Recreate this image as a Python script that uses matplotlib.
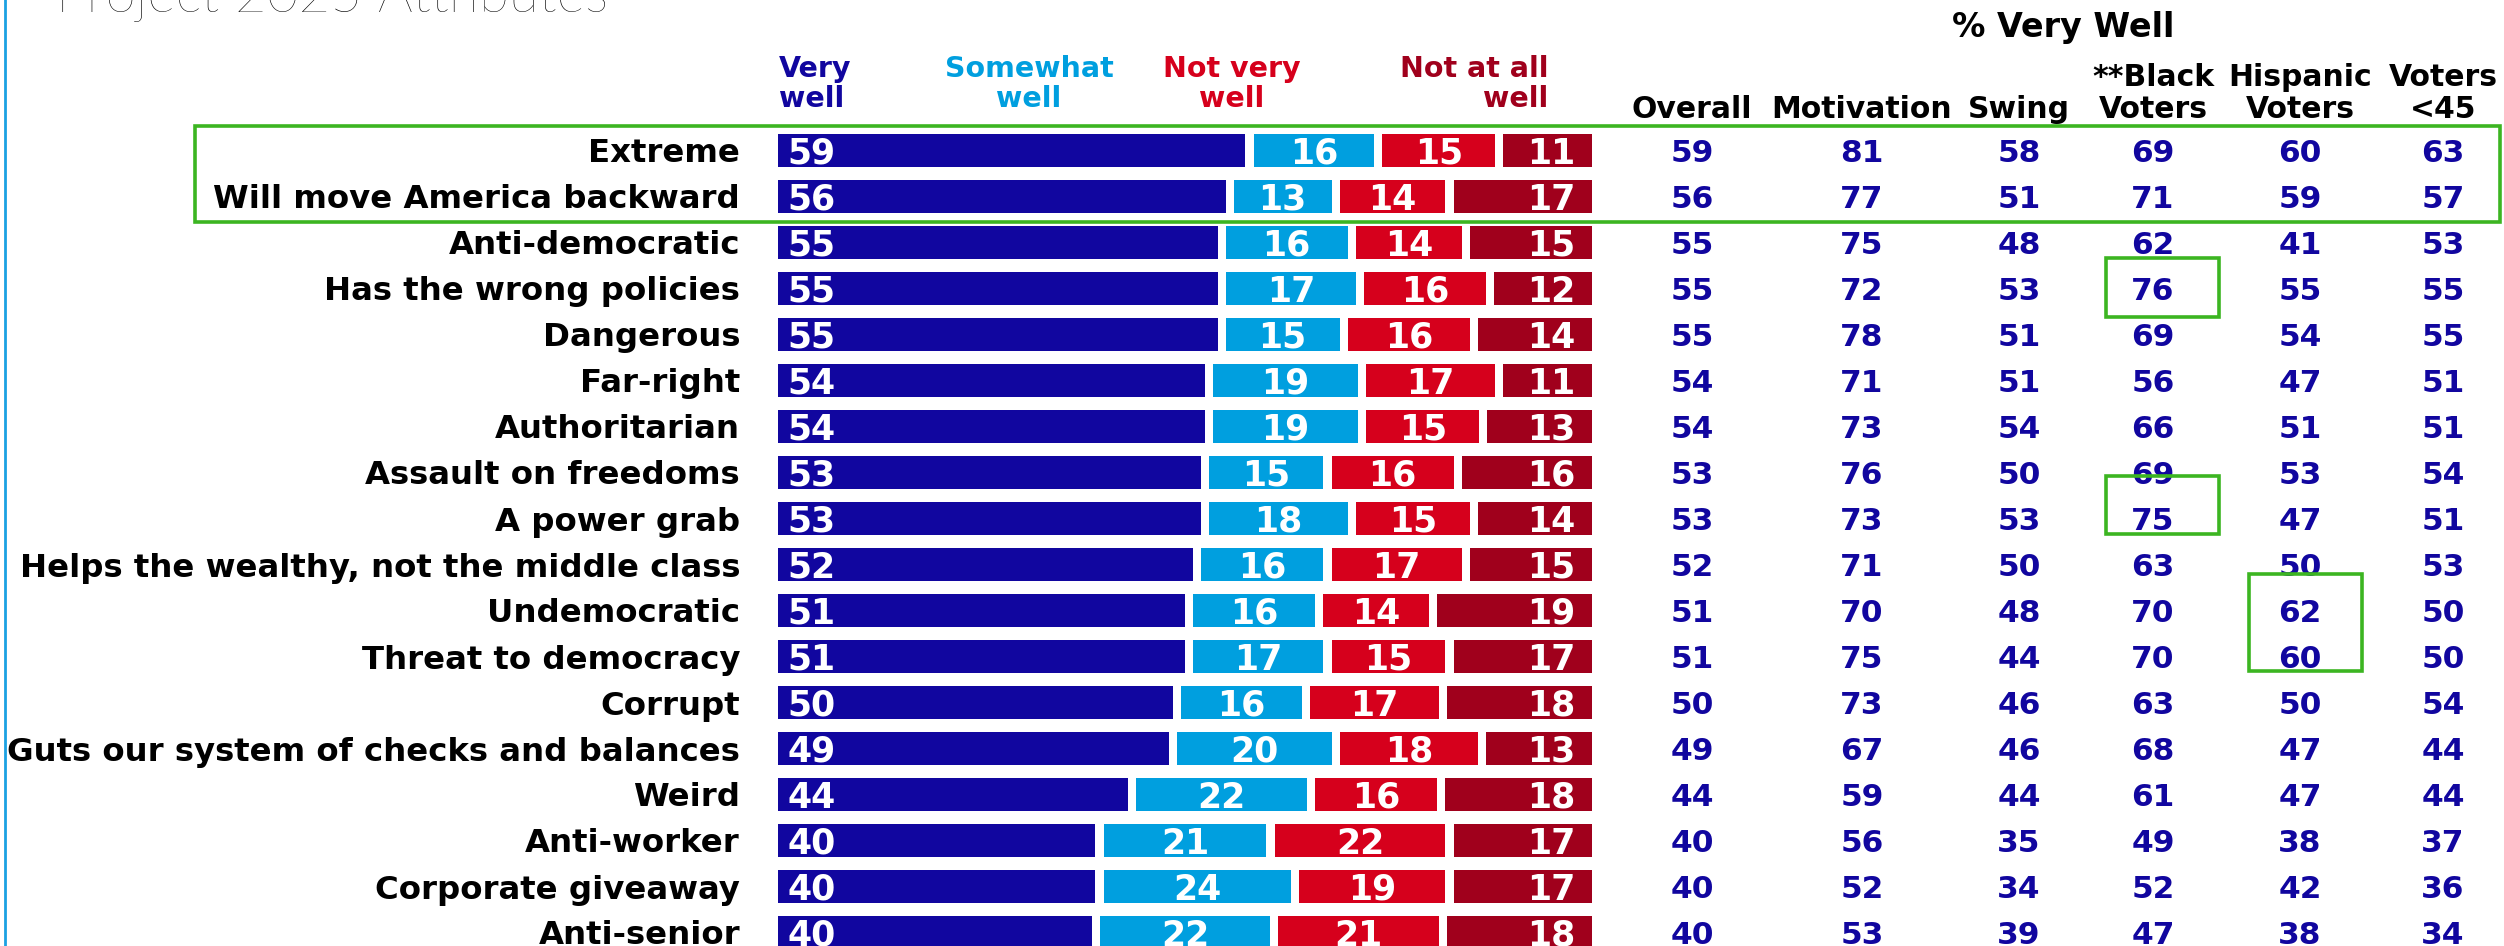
import matplotlib.pyplot as plt
import matplotlib.transforms as mtransforms
from matplotlib.patches import Rectangle
from matplotlib.lines import Line2D
import numpy as np

# Datos
attributes = ["Extreme", "Will move America backward", "Anti-democratic",
              "Has the wrong policies", "Dangerous", "Far-right", "Authoritarian",
              "Assault on freedoms", "A power grab",
              "Helps the wealthy, not the middle class", "Undemocratic",
              "Threat to democracy", "Corrupt", "Guts our system of checks and balances",
              "Weird", "Anti-worker", "Corporate giveaway", "Anti-senior"]
very_well = [59, 56, 55, 55, 55, 54, 54, 53, 53, 52, 51, 51, 50, 49, 44, 40, 40, 40]
somewhat_well = [16, 13, 16, 17, 15, 19, 19, 15, 18, 16, 16, 17, 16, 20, 22, 21, 24, 22]
not_very_well = [15, 14, 14, 16, 16, 17, 15, 16, 15, 17, 14, 15, 17, 18, 16, 22, 19, 21]
not_at_all_well = [11, 17, 15, 12, 14, 11, 13, 16, 14, 15, 19, 17, 18, 13, 18, 17, 17, 18]

col_names = ["Overall", "Motivation", "Swing", "**Black\nVoters", "Hispanic\nVoters", "Voters\n<45"]
overall = [59, 56, 55, 55, 55, 54, 54, 53, 53, 52, 51, 51, 50, 49, 44, 40, 40, 40]
motivation = [81, 77, 75, 72, 78, 71, 73, 76, 73, 71, 70, 75, 73, 67, 59, 56, 52, 53]
swing = [58, 51, 48, 53, 51, 51, 54, 50, 53, 50, 48, 44, 46, 46, 44, 35, 34, 39]
black_voters = [69, 71, 62, 76, 69, 56, 66, 69, 75, 63, 70, 70, 63, 68, 61, 49, 52, 47]
hispanic_voters = [60, 59, 41, 55, 54, 47, 51, 53, 47, 50, 62, 60, 50, 47, 47, 38, 42, 38]
voters_u45 = [63, 57, 53, 55, 55, 51, 51, 54, 51, 53, 50, 50, 54, 44, 44, 37, 36, 34]

W, H = 2504, 946
DARK = "#11069f"
colors = [DARK, "#009fdf", "#d6001c", "#a0001c"]
seg_names = ["Very\nwell", "Somewhat\nwell", "Not very\nwell", "Not at all\nwell"]

plt.rcParams['font.family'] = ['DejaVu Sans']


def fx(px):
    return px / W


def fy(py):
    return 1 - py / H


fig = plt.figure(figsize=(W / 100, H / 100), dpi=100)
fig.patch.set_facecolor("white")

# filas: centro de la fila 0 en y=150.5 px, paso 46 px
row0, step = 150.5, 46.0
ax = fig.add_axes([fx(778), 0, fx(1592) - fx(778), 1])
ax.set_xlim(0, 100)
ax.set_ylim((H - row0) / step, -row0 / step)
ax.axis("off")

segs = np.array([very_well, somewhat_well, not_very_well, not_at_all_well], dtype=float)
shares = segs / segs.sum(axis=0) * 100
lefts = np.vstack([np.zeros(len(attributes)), np.cumsum(shares, axis=0)[:-1]])
gap = 1.0
y = np.arange(len(attributes))

for k in range(4):
    widths = shares[k] - (gap if k < 3 else 0)
    ax.barh(y, widths, left=lefts[k], height=0.72, color=colors[k])
    for i in range(len(attributes)):
        val = int(segs[k, i])
        if k == 0:
            ax.text(lefts[k, i] + 1.2, i, str(val), ha="left", va="center_baseline",
                    color="white", fontsize=25, fontweight="bold")
        elif k == 3:
            ax.text(100 - 2.0, i, str(val), ha="right", va="center_baseline",
                    color="white", fontsize=25, fontweight="bold")
        else:
            ax.text(lefts[k, i] + widths[i] / 2, i, str(val), ha="center",
                    va="center_baseline", color="white", fontsize=25, fontweight="bold")

# etiquetas de filas
label_tr = mtransforms.blended_transform_factory(fig.transFigure, ax.transData)
for i, name in enumerate(attributes):
    ax.text(fx(740), i, name, transform=label_tr, ha="right", va="center_baseline",
            fontsize=23.3, fontweight="bold", color="black")

# encabezados de segmentos
hdr_x = [(fx(779), "left"), (fx(1029), "center"), (fx(1232), "center"), (fx(1548), "right")]
for (hx, ha), name, c in zip(hdr_x, seg_names, colors):
    fig.text(hx, fy(84), name, ha=ha, va="center", color=c, fontsize=20.5,
             fontweight="bold", linespacing=1.05)

# tabla % Very Well
table_cols = [overall, motivation, swing, black_voters, hispanic_voters, voters_u45]
col_x = [1692, 1862, 2019, 2153, 2300, 2443]
fig.text(fx(2063), fy(27), "% Very Well", ha="center", va="center", fontsize=24,
         fontweight="bold", color="black")
for cx, cname, vals in zip(col_x, col_names, table_cols):
    fig.text(fx(cx), fy(118), cname, ha="center", va="baseline", fontsize=21.5,
             fontweight="bold", color="black", linespacing=1.15)
    for i, v in enumerate(vals):
        ax.text(fx(cx), i, str(v), transform=label_tr, ha="center", va="center_baseline",
                fontsize=22.5, fontweight="bold", color=DARK)

# titulo (cortado arriba)
fig.text(fx(56), fy(12), "Project 2025 Attributes", ha="left", va="baseline",
         fontsize=39.5, family="Lato", fontweight="light", color="black")

# recuadros verdes
green = "#3cb521"
boxes = [(195, 126, 2500, 222), (2106, 258, 2219, 317), (2106, 476, 2219, 534),
         (2249, 574, 2362, 671)]
for x0, y0, x1, y1 in boxes:
    fig.add_artist(Rectangle((fx(x0), fy(y1)), fx(x1) - fx(x0), fy(y0) - fy(y1),
                             transform=fig.transFigure, fill=False, edgecolor=green,
                             linewidth=2.6))

# borde izquierdo
fig.add_artist(Line2D([fx(5), fx(5)], [0, 1], transform=fig.transFigure,
                      color="#1ba1e2", linewidth=2))

fig.savefig("out.png", dpi=100, facecolor="white")
